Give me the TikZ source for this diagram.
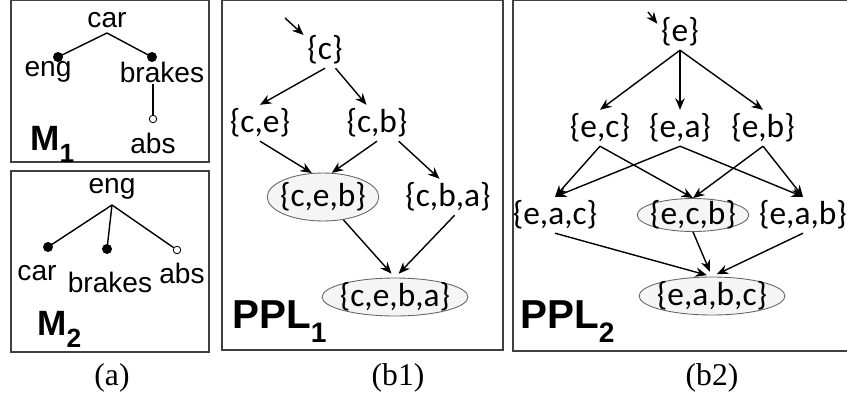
\documentclass[tikz,border=0pt]{standalone}
\usepackage{fontspec}
\setmainfont{Liberation Sans}
\newfontfamily\setfont{Carlito}
\newfontfamily\capfont{Liberation Serif}
\usepackage{tikz}
\usetikzlibrary{shapes,arrows.meta,positioning,calc}
\newcommand{\lsub}[2]{\raisebox{-0.35em}{\fontsize{#1}{#1}\selectfont #2}}

\begin{document}
\begin{tikzpicture}[
    x=0.02cm, y=-0.02cm,
    panel/.style={draw=black!75, line width=0.9pt},
    lbl/.style={font=\fontsize{16}{16}\selectfont, inner sep=1pt},
    fdot/.style={circle, fill=black, inner sep=0pt, minimum size=0.2cm},
    odot/.style={circle, draw=black, fill=white, line width=0.5pt, inner sep=0pt,
                 minimum size=0.15cm},
    tline/.style={line width=0.8pt},
    setnode/.style={font=\setfont\fontsize{19}{19}\selectfont, inner sep=2pt},
    selnode/.style={setnode, ellipse, draw=black!60, fill=black!4, line width=0.5pt,
                    inner xsep=-2pt, inner ysep=-3.5pt},
    arr/.style={-{Stealth[length=2.3mm, width=1.9mm]}, line width=0.8pt},
    title/.style={font=\bfseries\fontsize{20}{20}\selectfont, inner sep=0pt, anchor=base west},
    captext/.style={font=\capfont\fontsize{18}{18}\selectfont}
]
\useasboundingbox (0,0) rectangle (847,402);

\draw[panel] (11,0.5) rectangle (209,162);
\draw[panel] (11,171) rectangle (209,352);
\draw[panel] (222,0.5) rectangle (503,350);
\draw[panel] (513,0.5) rectangle (860,351);

% (a) feature models
\node[lbl, anchor=south, inner sep=3pt] (car) at (107,33) {car};
\node[fdot] (engdot) at (58,57) {};
\node[fdot] (brkdot) at (152,57) {};
\node[lbl] (eng) at (48,72) {eng};
\node[lbl] (brakes) at (162,72) {brakes};
\node[odot] (absdot) at (153,119) {};
\node[lbl] (abs) at (153,143) {abs};
\draw[tline] (car.south) -- (engdot.center);
\draw[tline] (car.south) -- (brkdot.center);
\draw[tline] (absdot.north) -- (absdot.north |- brakes.south);
\node[title] (m1) at (30,150) {M\lsub{15}{1}};

\node[lbl, anchor=south, inner sep=3pt] (eng2) at (112,205) {eng};
\node[fdot] (cardot2) at (48,247) {};
\node[fdot] (brkdot2) at (107,249) {};
\node[odot] (absdot2) at (177,250) {};
\node[lbl] (car2) at (37,273) {car};
\node[lbl] (brakes2) at (110,282) {brakes};
\node[lbl] (abs2) at (182,273) {abs};
\draw[tline] (eng2.south) -- (cardot2.center);
\draw[tline] (eng2.south) -- (brkdot2.center);
\draw[tline] (eng2.south) -- (absdot2);
\node[title] (m2) at (37,335) {M\lsub{15}{2}};

\node[captext] (capa) at (112,378) {(a)};

% (b1) lattice of M1
\coordinate (cstart) at (285,18);
\node[setnode] (c) at (325,50) {\{c\}};
\node[setnode] (ce) at (260,123) {\{c,e\}};
\node[setnode] (cb) at (377,123) {\{c,b\}};
\node[selnode, minimum width=2.1cm, minimum height=0.96cm] (ceb) at (323,197) {\{c,e,b\}};
\node[setnode] (cba) at (448,197) {\{c,b,a\}};
\node[selnode, minimum width=2.7cm, minimum height=0.76cm] (ceba) at (395,297) {\{c,e,b,a\}};

\draw[arr] (cstart) -- (c.145);
\draw[arr] (c.south) -- (ce.north);
\draw[arr] (c.-60) -- (cb.120);
\draw[arr] (ce.south) -- (ceb.115);
\draw[arr] (cb.south) -- (ceb.70);
\draw[arr] (cb.-40) -- (cba.115);
\draw[arr, shorten >=3pt] (ceb) -- (ceba.north);
\draw[arr, shorten >=3pt] (cba.-70) -- (ceba.north);

\node[title, font=\bfseries\fontsize{23}{23}\selectfont] (ppl1) at (232,328) {PPL\lsub{16}{1}};
\node[captext] (capb1) at (398,378) {(b1)};

% (b2) lattice of M2
\coordinate (estart) at (648,12);
\node[setnode] (e) at (680,32) {\{e\}};
\node[setnode] (ec) at (600,128) {\{e,c\}};
\node[setnode] (ea) at (680,128) {\{e,a\}};
\node[setnode] (eb) at (763,128) {\{e,b\}};
\node[setnode] (eac) at (555,215) {\{e,a,c\}};
\node[selnode, minimum width=2.14cm, minimum height=0.66cm] (ecb) at (693,215) {\{e,c,b\}};
\node[setnode] (eab) at (803,215) {\{e,a,b\}};
\node[selnode, minimum width=2.7cm, minimum height=0.76cm] (eabc) at (712,296) {\{e,a,b,c\}};

\draw[arr] (estart) -- (e.160);
\foreach \t in {ec,ea,eb}
    \draw[arr] (e.south) -- (\t.north);
\draw[arr] (ec.south) -- (eac.north);
\draw[arr] (ec.south) -- (ecb.north);
\draw[arr] (ea.south) -- (eac.north);
\draw[arr] (ea.south) -- (eab.north);
\draw[arr] (eb.south) -- (ecb.north);
\draw[arr] (eb.south) -- (eab.north);
\foreach \s in {eac,ecb,eab}
    \draw[arr, shorten >=3pt] (\s.south) -- (eabc.north);

\node[title, font=\bfseries\fontsize{23}{23}\selectfont] (ppl2) at (520,328) {PPL\lsub{16}{2}};
\node[captext] (capb2) at (712,378) {(b2)};

\end{tikzpicture}
\end{document}
